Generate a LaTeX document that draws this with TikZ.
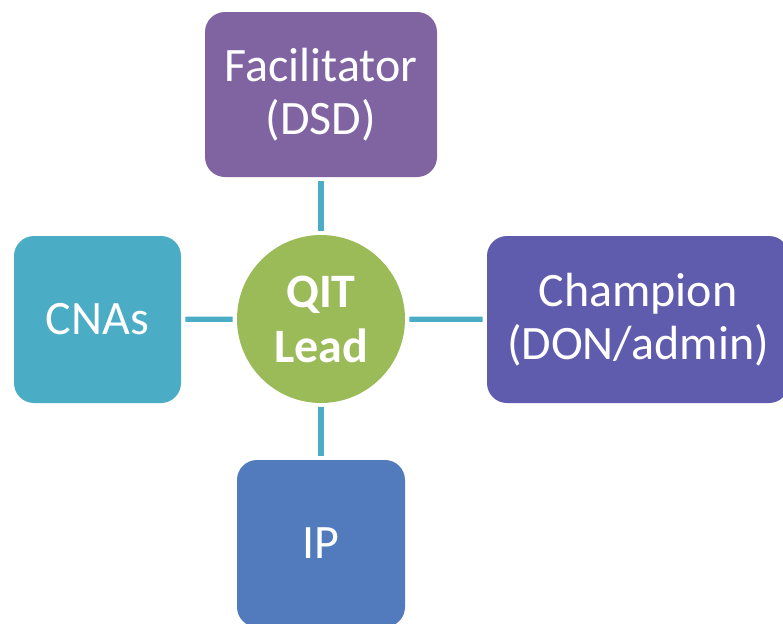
\documentclass[tikz,border=0pt]{standalone}
\usepackage{fontspec}
\setmainfont{Carlito}
\usepackage{tikz}
\usetikzlibrary{positioning}

\definecolor{facpurple}{HTML}{8064A2}
\definecolor{champviolet}{HTML}{5F5BAD}
\definecolor{cnateal}{HTML}{4BACC6}
\definecolor{ipblue}{HTML}{527BBD}
\definecolor{leadgreen}{HTML}{9BBB59}

\begin{document}
\begin{tikzpicture}[
  x=0.5pt, y=-0.5pt,
  font=\fontsize{24}{26.5}\selectfont,
  rolebox/.style={rounded corners=10pt, inner sep=0pt, align=center, text=white},
  leadnode/.style={circle, fill=leadgreen, minimum size=84pt, inner sep=0pt, align=center, text=white, font=\fontsize{24}{27.5}\selectfont\bfseries},
  link/.style={draw=cnateal, line width=2.6pt, shorten <=2pt, shorten >=2pt}
]
\useasboundingbox (0,0) rectangle (783,623);

% center
\node[leadnode] (lead) at (321,319) {QIT\\Lead};

% roles around
\node[rolebox, fill=facpurple, minimum width=116pt, minimum height=82.5pt] (fac) at (321,94.5) {Facilitator\\(DSD)};
\node[rolebox, fill=cnateal, minimum width=83.5pt, minimum height=83.5pt] (cna) at (97.5,319.5) {CNAs};
\node[rolebox, fill=champviolet, minimum width=151pt, minimum height=83.5pt] (champ) at (638,319.5) {Champion\\(DON/admin)};
\node[rolebox, fill=ipblue, minimum width=84pt, minimum height=83.5pt] (ip) at (321,543.5) {IP};

\draw[link] (lead) -- (fac);
\draw[link] (lead) -- (cna);
\draw[link] (lead) -- (champ);
\draw[link] (lead) -- (ip);

\end{tikzpicture}
\end{document}
